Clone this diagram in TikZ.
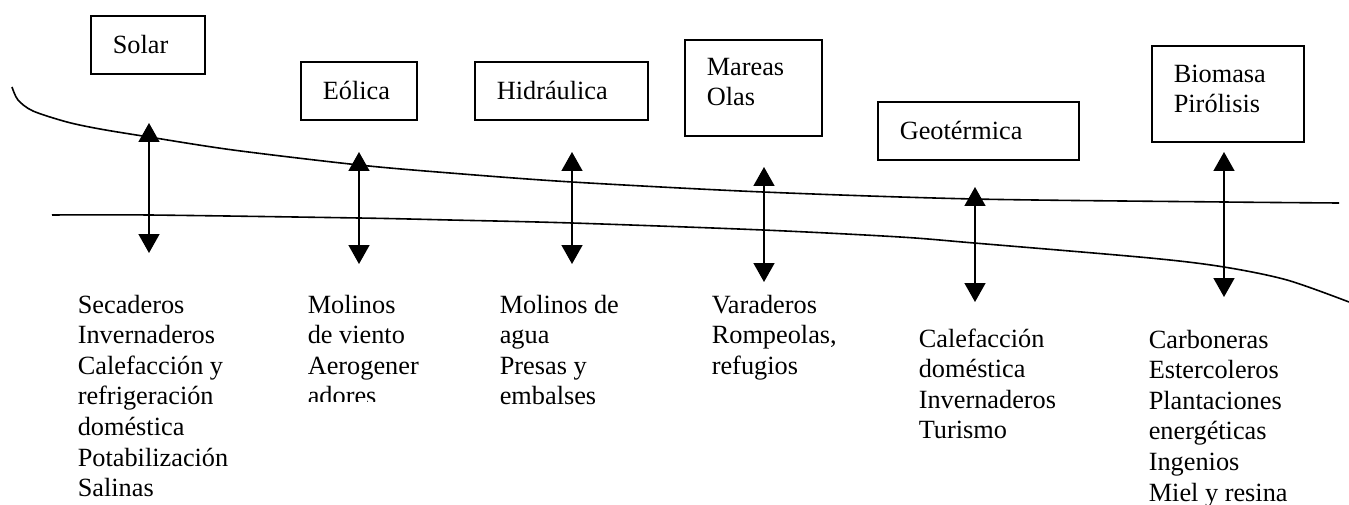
\documentclass[tikz,border=0pt]{standalone}
\usepackage{fontspec}
\setmainfont{Liberation Serif}
\usetikzlibrary{arrows.meta}

\begin{document}
\begin{tikzpicture}[x=1pt,y=-1pt,line width=1.6pt,
                    >={Triangle[width=21pt,length=19pt]}]
\tikzstyle{every node}=[font=\fontsize{26.3}{30.6}\selectfont]
\tikzstyle{fuente}=[draw,anchor=north west,align=left,inner xsep=22pt,
                    inner ysep=0pt,minimum height=58pt]
\tikzstyle{usos}=[anchor=base west,align=left,inner sep=0pt,text width=170pt,
                  execute at begin node={\spaceskip=0pt\xspaceskip=0pt}]
\useasboundingbox (0,0) rectangle (1349,505);

\node[fuente,text width=70pt] (SOLAR) at (90,15) {Solar};
\node[fuente,text width=72pt] (EOL) at (300,61) {Eólica};
\node[fuente,text width=129pt] (HID) at (474,61) {Hidráulica};
\node[fuente,text width=93pt,minimum height=96pt] (MAR) at (684,39)
      {Mareas\\Olas\rule[-12pt]{0pt}{0pt}};
\node[fuente,text width=157pt] (GEO) at (877,101) {Geotérmica};
\node[fuente,text width=108pt,minimum height=96pt] (BIO) at (1151,45)
      {Biomasa\\Pirólisis\rule[-10pt]{0pt}{0pt}};

\draw plot[smooth] coordinates {(12,87) (18,100) (33,111) (67,122) (100,129)
      (149,137) (233,150) (359,165) (450,173) (572,182) (763,192) (974,199)
      (1224,202) (1339,203)};
\draw plot[smooth] coordinates {(52,215) (149,215) (359,218) (450,220)
      (572,223) (763,230) (900,237) (974,243) (1150,258) (1224,267)
      (1287,280) (1349,302)};

\coordinate (SOLARa) at (149,123); \coordinate (SOLARb) at (149,253);
\coordinate (EOLa) at (359,152);   \coordinate (EOLb) at (359,264);
\coordinate (HIDa) at (572,152);   \coordinate (HIDb) at (572,264);
\coordinate (MARa) at (764,167);   \coordinate (MARb) at (764,282);
\coordinate (GEOa) at (975,187);   \coordinate (GEOb) at (975,302);
\coordinate (BIOa) at (1224,152);  \coordinate (BIOb) at (1224,297);
\path[<->] (SOLARa) edge (SOLARb)
      (EOLa) edge (EOLb)
      (HIDa) edge (HIDb)
      (MARa) edge (MARb)
      (GEOa) edge (GEOb)
      (BIOa) edge (BIOb);

\node[usos] (SOLARu) at (77,313) {Secaderos\\Invernaderos\\Calefacción y\\
      refrigeración\\doméstica\\Potabilización\\Salinas};
\begin{scope}
\clip (290,280) rectangle (419,401);
\node[usos] (EOLu) at (307,313) {Molinos\\de viento\\Aerogener\\adores};
\end{scope}
\node[usos] (HIDu) at (499,313) {Molinos de\\agua\\Presas y\\embalses};
\node[usos] (MARu) at (711,313) {Varaderos\\Rompeolas,\\refugios};
\node[usos] (GEOu) at (918,347) {Calefacción\\doméstica\\Invernaderos\\Turismo};
\node[usos] (BIOu) at (1148,348) {Carboneras\\Estercoleros\\Plantaciones\\
      energéticas\\Ingenios\\Miel y resina};
\end{tikzpicture}
\end{document}
